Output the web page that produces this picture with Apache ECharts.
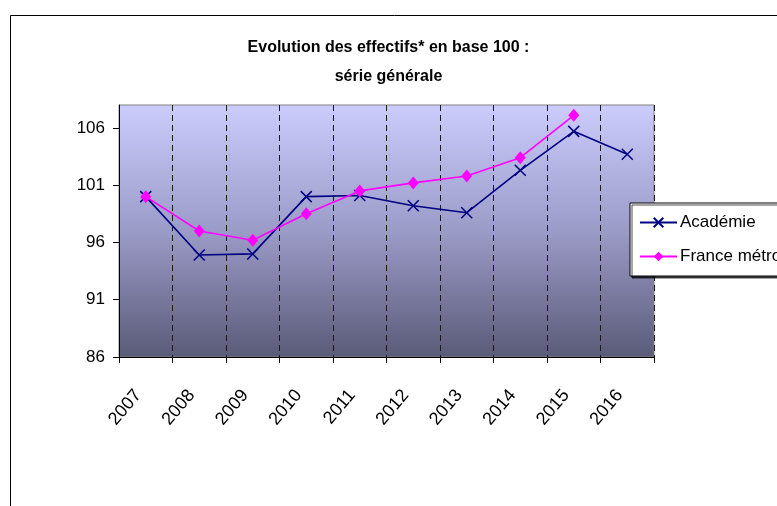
<!DOCTYPE html>
<html>
<head>
<meta charset="utf-8">
<script src="https://cdn.jsdelivr.net/npm/echarts@6/dist/echarts.min.js"></script>
<style>
html, body { margin: 0; padding: 0; background: #fff; }
#main { width: 777px; height: 506px; }
</style>
</head>
<body>
<div id="main"></div>
<script>
const years = ['2007', '2008', '2009', '2010', '2011', '2012', '2013', '2014', '2015', '2016'];
const academie = [100, 94.9, 95.0, 100.0, 100.1, 99.2, 98.6, 102.3, 105.7, 103.7];
const franceMetro = [100, 97.0, 96.2, 98.5, 100.5, 101.2, 101.8, 103.4, 107.1, null];
const yTicks = [86, 91, 96, 101, 106];

const font = "'Liberation Sans', Arial, sans-serif";

const myChart = echarts.init(document.getElementById('main'));

const option = {
	animation: false,
	title: {
		text: 'Evolution des effectifs* en base 100 :\nsérie générale',
		left: 'center',
		top: 33,
		padding: 0,
		textStyle: {
			fontFamily: font,
			fontWeight: 'bold',
			fontSize: 16,
			lineHeight: 29,
			color: '#000'
		}
	},
	graphic: [
		{
			type: 'rect',
			shape: { x: 10.5, y: 15.5, width: 900, height: 700 },
			style: { fill: null, stroke: '#000', lineWidth: 1 },
			z: -1
		}
	],
	legend: {
		orient: 'vertical',
		left: 630,
		top: 203,
		padding: [11, 40, 11, 9],
		itemWidth: 37,
		itemHeight: 12,
		itemGap: 17,
		backgroundColor: '#fff',
		borderColor: '#000',
		borderWidth: 1,
		shadowColor: 'rgba(0,0,0,0.7)',
		shadowOffsetX: 2,
		shadowOffsetY: 2,
		textStyle: { fontFamily: font, fontSize: 17, color: '#000', padding: [0, 0, 0, -2] },
		data: ['Académie', 'France métropolitaine']
	},
	grid: {
		left: 119,
		top: 105,
		right: 123,
		bottom: 149,
		show: true,
		borderColor: '#808080',
		borderWidth: 1,
		backgroundColor: new echarts.graphic.LinearGradient(0, 0, 0, 1, [
			{ offset: 0, color: '#ccccfd' },
			{ offset: 0.5, color: '#9b9bc8' },
			{ offset: 1, color: '#5a5a78' }
		])
	},
	xAxis: {
		type: 'category',
		data: years,
		boundaryGap: true,
		axisLine: { lineStyle: { color: '#000', width: 1 } },
		axisTick: { show: true, length: 6, lineStyle: { color: '#000' } },
		splitLine: {
			show: true,
			interval: 0,
			lineStyle: { color: '#1a1a1a', type: [6, 4], width: 1 }
		},
		axisLabel: {
			rotate: 50,
			margin: 26,
			interval: 0,
			padding: [0, 12, 0, 0],
			fontFamily: font,
			fontSize: 18,
			color: '#000'
		}
	},
	yAxis: {
		type: 'value',
		min: 86,
		max: 108,
		interval: 5,
		axisLine: { show: true, lineStyle: { color: '#000', width: 1 } },
		axisTick: { show: true, length: 6, lineStyle: { color: '#000' }, customValues: yTicks },
		splitLine: { show: false },
		axisLabel: {
			customValues: yTicks,
			margin: 14,
			fontFamily: font,
			fontSize: 17,
			color: '#000'
		}
	},
	series: [
		{
			name: 'Académie',
			type: 'line',
			data: academie,
			symbol: 'path://M0,0L10,10M10,0L0,10',
			symbolSize: 11,
			lineStyle: { color: '#000080', width: 1.6 },
			itemStyle: { color: '#000080', borderColor: '#000080', borderWidth: 1.5 },
			z: 3
		},
		{
			name: 'France métropolitaine',
			type: 'line',
			data: franceMetro,
			symbol: 'diamond',
			symbolSize: [11, 13],
			lineStyle: { color: '#ff00ff', width: 1.6 },
			itemStyle: { color: '#ff00ff' },
			z: 4
		}
	]
};

myChart.setOption(option);
</script>
</body>
</html>
